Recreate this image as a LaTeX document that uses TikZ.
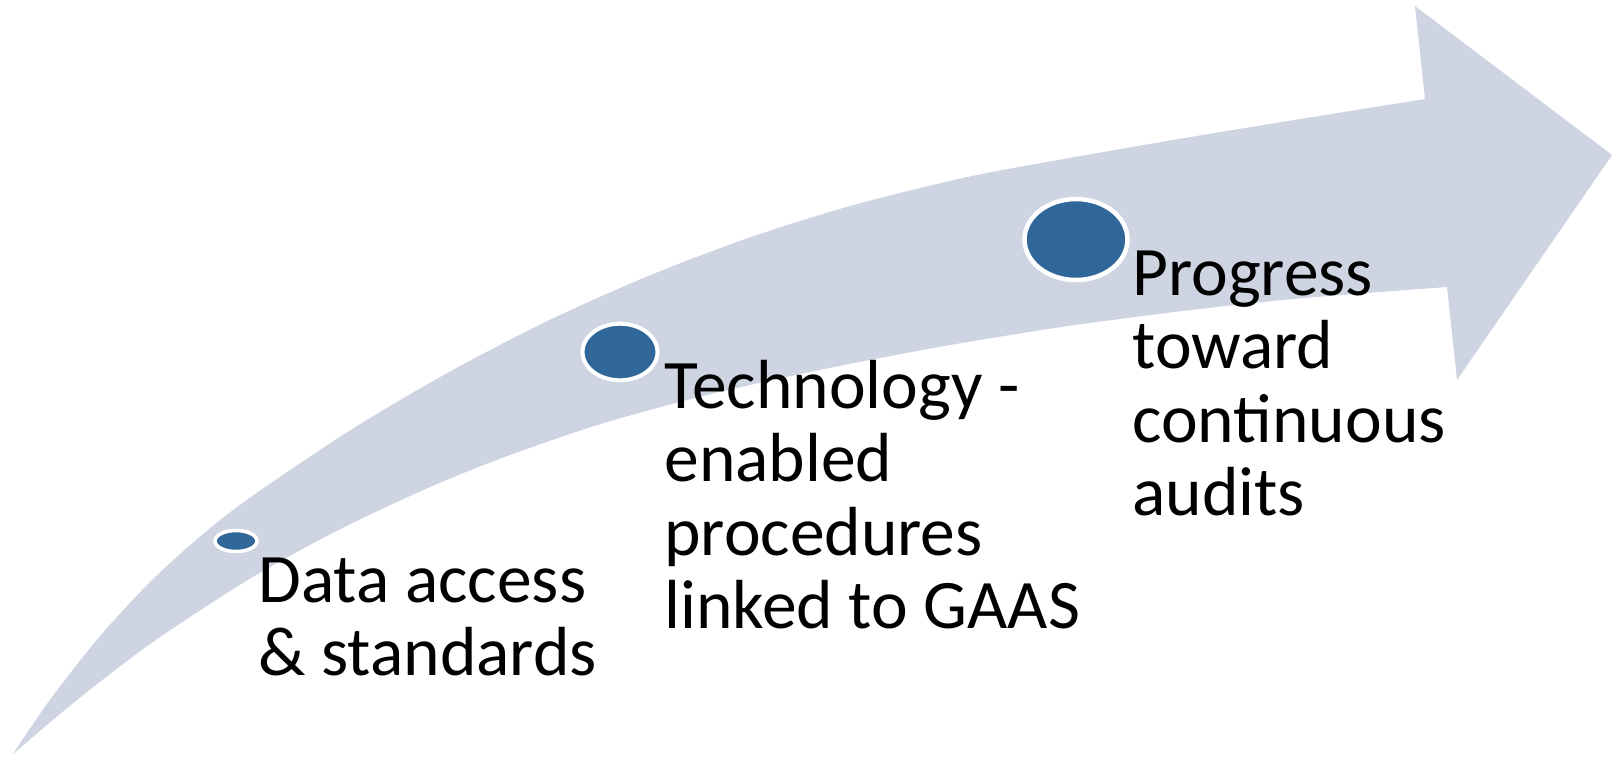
\documentclass[tikz,border=0pt]{standalone}
\usepackage{fontspec}
\setmainfont{Carlito}
\usetikzlibrary{shapes.geometric}
\definecolor{bandfill}{RGB}{206,212,225}
\definecolor{dotblue}{RGB}{48,103,155}
\begin{document}
\begin{tikzpicture}[x=0.5pt,y=-0.5pt,
  dot/.style={ellipse, fill=dotblue, draw=white, inner sep=0pt, outer sep=0pt},
  stage/.style={anchor=base west, align=left, inner sep=0pt,
    font=\fontsize{34.75}{36.75}\selectfont}]
\useasboundingbox (0,0) rectangle (1613,757);
% curved band rising to the right, ending in an arrow head
\fill[bandfill]
  plot[smooth, tension=0.5] coordinates {(13,754) (50,699.7) (100,636.1)
    (150,582.1) (200,536.5) (250,497.6) (350,430.4) (450,371.5) (550,319.8)
    (650,275.3) (750,237.4) (850,206) (950,180.9) (1020,166.8) (1200,135.4)
    (1425,99)}
  -- (1415,6) -- (1612,155) -- (1457,380)
  -- plot[smooth, tension=0.5] coordinates {(1447,287) (1300,298.4) (1200,308.9)
    (1100,321.6) (1050,328.7) (950,345) (850,363.8) (775,379.5) (700,396.7)
    (600,424.2) (500,458.7) (420,491.5) (333,532.8) (250,578.7) (160,637.1)
    (100,681.8) (60,714) (13,754)}
  -- cycle;
% milestone markers, growing along the band
\node[dot, line width=1.75pt, minimum width=21pt, minimum height=10.5pt] (d1) at (236,541) {};
\node[dot, line width=2pt, minimum width=37.5pt, minimum height=28.3pt] (d2) at (620,352) {};
\node[dot, line width=2.25pt, minimum width=51.5pt, minimum height=40.5pt] (d3) at (1076,239.5) {};
% stage labels (placed by the baseline of their last line)
\node[stage] (t1) at (258,675.5) {Data access\\\& standards};
\node[stage] (t2) at (664,628.5) {Technology -\\enabled\\procedures\\linked to GAAS};
\node[stage] (t3) at (1132,515.5) {Progress\\toward\\continuous\\audits};
\end{tikzpicture}
\end{document}
